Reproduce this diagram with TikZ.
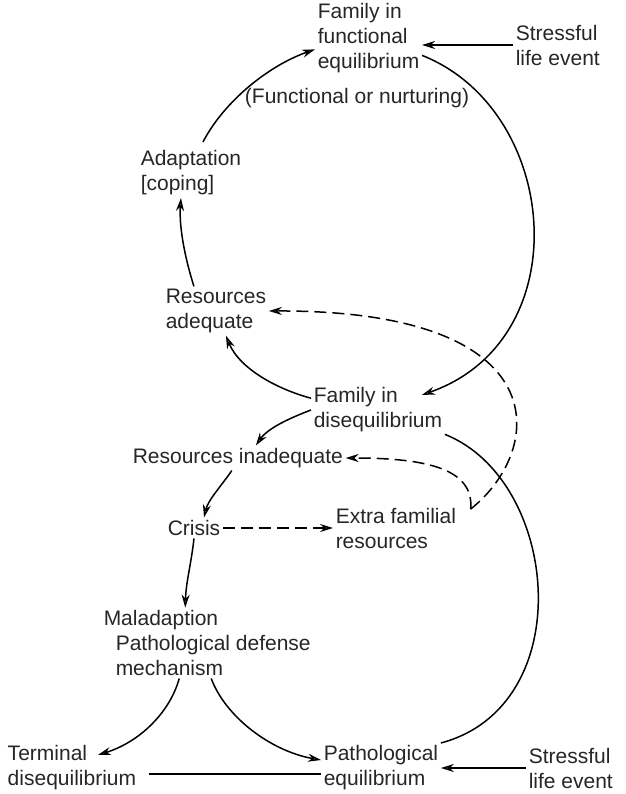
\documentclass[tikz,border=0pt]{standalone}
\usepackage{fontspec}
\setmainfont{Liberation Sans}
\usetikzlibrary{arrows.meta}

\begin{document}
\begin{tikzpicture}[x=1pt, y=1pt, line width=1.5pt,
    every node/.style={font=\fontsize{21}{25}\selectfont, inner sep=2pt, align=left, text=black!85},
    link/.style={-{Stealth[length=13pt, width=8pt, open]}},
    extlink/.style={link, dash pattern=on 12pt off 6pt}]
    \useasboundingbox (0,0) rectangle (625,-794);

    % Functional loop
    \node[anchor=west] (func) at (315,-38) {Family in\\functional\\equilibrium};
    \node (nurt) at (357,-98) {(Functional or nurturing)};
    \node[anchor=west] (stress1) at (513,-45) {Stressful\\life event};
    \node[anchor=west] (adapt) at (138,-173) {Adaptation\\{[coping]}};
    \node[anchor=west] (resadq) at (163,-311) {Resources\\adequate};
    \node[anchor=west] (diseq) at (311,-410) {Family in\\disequilibrium};

    % Crisis branch
    \node[anchor=west] (resinad) at (130,-458) {Resources inadequate};
    \node[anchor=west] (crisis) at (165,-528) {Crisis};
    \node[anchor=west] (extra) at (333,-528) {Extra familial\\resources};
    \node[anchor=west] (malad) at (101,-643) {Maladaption\\\hspace*{12pt}Pathological defense\\\hspace*{12pt}mechanism};

    % Outcomes
    \node[anchor=west] (term) at (5,-768) {Terminal\\disequilibrium};
    \node[anchor=west] (patho) at (321,-768) {Pathological\\equilibrium};
    \node[anchor=west] (stress2) at (526,-768) {Stressful\\life event};
    \coordinate (split) at ([shift={(12pt,-4pt)}]extra.north east);

    % Solid connectors
    \draw[link] (stress1.west) -- (stress1.west -| func.east);
    \draw[link] ([shift={(12pt,6pt)}]adapt.north) .. controls (225,-100) and (270,-65) .. (func.192);
    \draw[link] ([xshift=-22pt]resadq.north) .. controls (184,-255) and (179,-225) .. ([xshift=-10pt]adapt.south);
    \draw[link] (func.-18) .. controls (560,-110) and (580,-340) .. ([shift={(-23pt,-10pt)}]diseq.north east);
    \draw[link] (diseq.170) .. controls (280,-390) and (240,-370) .. ([xshift=10pt]resadq.south);
    \draw[link] (diseq.west) .. controls (290,-418) and (268,-428) .. ([xshift=18pt]resinad.north);
    \draw[link] ([xshift=-6pt]resinad.south) .. controls (222,-485) and (208,-500) .. ([xshift=10pt]crisis.north);
    \draw[link] (crisis.south) .. controls (191,-565) and (186,-582) .. ([xshift=-22pt]malad.north);
    \draw[link] ([xshift=-28pt]malad.south) .. controls (170,-712) and (140,-742) .. ([shift={(26pt,-12pt)}]term.north);
    \draw[link] ([xshift=4pt]malad.south) .. controls (225,-716) and (270,-751) .. ([yshift=8pt]patho.west);
    \draw ([shift={(10pt,-6pt)}]term.east) -- ([yshift=-6pt]patho.west);
    \draw (diseq.-20) .. controls (560,-480) and (580,-706) .. (patho.north east);
    \draw[link] (stress2.west) -- (patho.east);

    % Dashed connectors
    \draw[extlink] (crisis.east) -- (crisis.east -| extra.west);
    \draw[extlink] (split) .. controls (545,-450) and (560,-310) .. (resadq.east);
    \draw[extlink] (split) .. controls (474,-470) and (430,-458) .. (resinad.east);
\end{tikzpicture}
\end{document}
